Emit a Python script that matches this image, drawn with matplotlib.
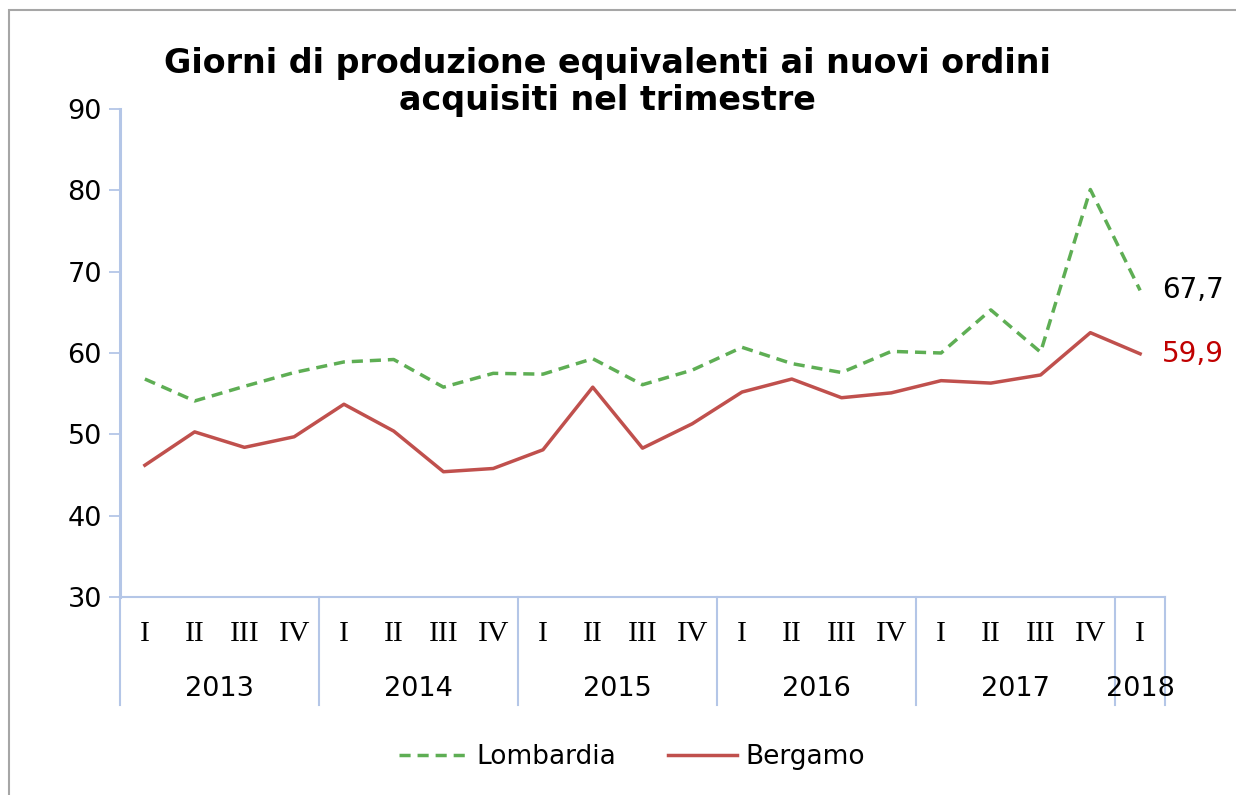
import matplotlib
matplotlib.use("Agg")
import matplotlib.pyplot as plt
from matplotlib.patches import Rectangle
from matplotlib.lines import Line2D

quarters = ["I", "II", "III", "IV"] * 5 + ["I"]
years = ["2013", "2014", "2015", "2016", "2017", "2018"]
year_counts = [4, 4, 4, 4, 4, 1]
lombardia = [56.8, 54.1, 55.9, 57.6, 58.9, 59.2, 55.8, 57.5, 57.4, 59.3, 56.1,
             57.9, 60.7, 58.7, 57.6, 60.2, 60.0, 65.3, 60.1, 80.1, 67.7]
bergamo = [46.2, 50.3, 48.4, 49.7, 53.7, 50.4, 45.4, 45.8, 48.1, 55.8, 48.3,
           51.3, 55.2, 56.8, 54.5, 55.1, 56.6, 56.3, 57.3, 62.5, 59.9]
yticks = [30, 40, 50, 60, 70, 80, 90]
title = "Giorni di produzione equivalenti ai nuovi ordini\nacquisiti nel trimestre"

W, H = 1236, 795
fig = plt.figure(figsize=(W / 100, H / 100), dpi=100)
fig.patch.set_facecolor("white")

ax_l, ax_r, ax_b, ax_t = 120, 1165, 597, 109
ax = fig.add_axes([ax_l / W, 1 - ax_b / H, (ax_r - ax_l) / W, (ax_b - ax_t) / H])

axis_col = "#b4c6e7"
green = "#5eae54"
red = "#c0504d"
LW = 2.5
DASH = (0, (3.2, 2.0))

n = len(lombardia)
x = list(range(n))
ax.plot(x, lombardia, color=green, lw=LW, ls=DASH, label="Lombardia")
ax.plot(x, bergamo, color=red, lw=LW, label="Bergamo")

ax.set_xlim(-0.5, n - 0.5)
ax.set_ylim(30, 90)
ax.set_yticks(yticks)
ax.set_yticklabels([str(v) for v in yticks], fontsize=19.5, family="DejaVu Sans")
ax.tick_params(axis="y", length=8, width=1.3, color=axis_col, pad=5)
ax.set_xticks([])
for s in ["top", "right"]:
    ax.spines[s].set_visible(False)
ax.spines["left"].set_color(axis_col)
ax.spines["left"].set_linewidth(2.2)
ax.spines["bottom"].set_color(axis_col)
ax.spines["bottom"].set_linewidth(1.5)

# end labels
ax.annotate("67,7", (x[-1], lombardia[-1]), xytext=(16, 0), textcoords="offset points",
            fontsize=20, color="black", va="center", ha="left", annotation_clip=False)
ax.annotate("59,9", (x[-1], bergamo[-1]), xytext=(16, 0), textcoords="offset points",
            fontsize=20, color="#c00000", va="center", ha="left", annotation_clip=False)

# two-level category axis
trans = ax.get_xaxis_transform()
sep_len = (705 - 597) / (ax_b - ax_t)
q_y = -(634 - 597) / (ax_b - ax_t)
y_y = -(689 - 597) / (ax_b - ax_t)
for i, q in enumerate(quarters):
    ax.text(i, q_y, q, transform=trans, ha="center", va="center", fontsize=21.5,
            family="Liberation Serif", clip_on=False)
pos = -0.5
bounds = [pos]
for yr, c in zip(years, year_counts):
    ax.text(pos + c / 2, y_y, yr, transform=trans, ha="center", va="center",
            fontsize=19.5, family="DejaVu Sans", clip_on=False)
    pos += c
    bounds.append(pos)
for b in bounds:
    ax.add_line(Line2D([b, b], [0, -sep_len], transform=trans, color=axis_col,
                       lw=1.5, clip_on=False))

fig.text(607 / W, 1 - 82 / H, title, ha="center", va="center", fontsize=24,
         fontweight="bold", family="DejaVu Sans", linespacing=1.15)

handles = [Line2D([], [], color=green, lw=LW, ls=DASH),
           Line2D([], [], color=red, lw=LW)]
fig.legend(handles, ["Lombardia", "Bergamo"], loc="center", bbox_to_anchor=(632 / W, 1 - 757 / H),
           ncol=2, frameon=False, fontsize=19, handlelength=2.6, columnspacing=2.0,
           handletextpad=0.3)

fig.add_artist(Rectangle((8.5 / W, -0.05), 1.2, 1 - 10 / H + 0.05, transform=fig.transFigure,
                         fill=False, edgecolor="#a6a6a6", lw=1.5))

fig.savefig("out.png", dpi=100, facecolor="white")
